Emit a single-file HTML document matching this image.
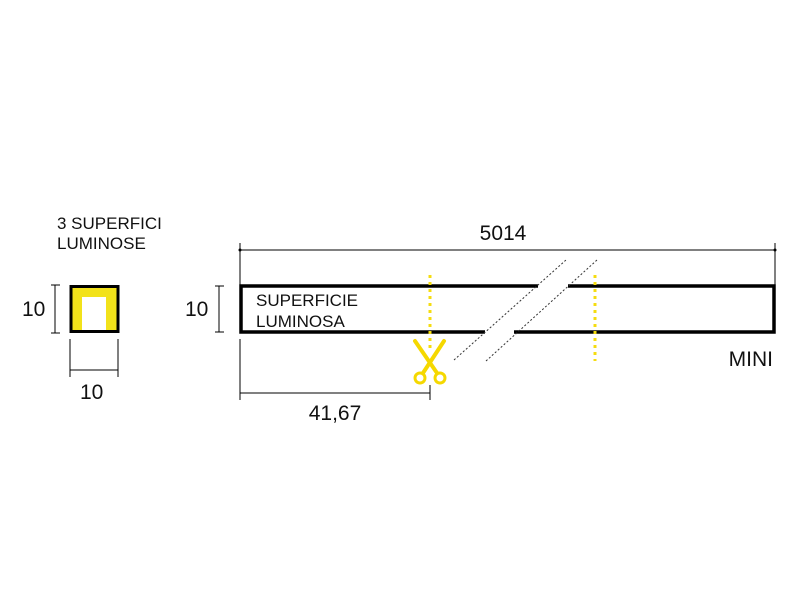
<!DOCTYPE html>
<html><head><meta charset="utf-8"><style>
html,body{margin:0;padding:0;background:#fff;width:800px;height:599px;overflow:hidden}
svg{display:block}
text{font-family:"Liberation Sans",Arial,sans-serif;fill:#111}
</style></head><body>
<svg width="800" height="599" viewBox="0 0 800 599" xmlns="http://www.w3.org/2000/svg">
<!-- small section -->
<text x="57" y="229" font-size="17">3 SUPERFICI</text>
<text x="57" y="249" font-size="17">LUMINOSE</text>
<rect x="71" y="286.5" width="47" height="45" fill="#f2e21a" stroke="#000" stroke-width="3"/>
<rect x="82" y="297" width="24" height="33" fill="#fff"/>
<line x1="71" y1="331.5" x2="118" y2="331.5" stroke="#000" stroke-width="3"/>
<g stroke="#000" stroke-width="1" fill="none">
<line x1="55" y1="285" x2="55" y2="333"/><line x1="51" y1="285" x2="60" y2="285"/><line x1="51" y1="333" x2="60" y2="333"/>
<line x1="70" y1="339" x2="70" y2="377"/><line x1="118" y1="339" x2="118" y2="377"/><line x1="70" y1="370" x2="118" y2="370"/>
</g>
<text x="22" y="316" font-size="21">10</text>
<text x="80" y="399" font-size="21">10</text>

<!-- main bar -->
<g stroke="#000" stroke-width="3.5" fill="none">
<path d="M538 286 H241 V332 H485"/>
<path d="M568 286 H774 V332 H514"/>
</g>
<g stroke="#000" stroke-width="1" fill="none">
<line x1="240" y1="250" x2="775" y2="250"/>
<line x1="240" y1="243" x2="240" y2="286"/>
<line x1="775" y1="243" x2="775" y2="286"/>
<line x1="219" y1="286" x2="219" y2="332"/><line x1="215" y1="286" x2="224" y2="286"/><line x1="215" y1="332" x2="224" y2="332"/>
<line x1="240" y1="339" x2="240" y2="400"/>
<line x1="240" y1="393" x2="430" y2="393"/>
<line x1="430" y1="385" x2="430" y2="400"/>
</g>
<circle cx="240" cy="250" r="1.5"/><circle cx="775" cy="250" r="1.5"/>
<g stroke="#333" stroke-width="1" stroke-dasharray="2,2">
<line x1="454" y1="360" x2="566" y2="260"/>
<line x1="486" y1="361" x2="597" y2="260"/>
</g>
<g stroke="#f5dc10" stroke-width="3" stroke-dasharray="3,4">
<line x1="430" y1="275" x2="430" y2="352"/>
<line x1="595" y1="275" x2="595" y2="361"/>
</g>
<!-- scissors -->
<g stroke="#f5d800" fill="none" stroke-linecap="round">
<path d="M415 341 L437 373" stroke-width="4"/>
<path d="M444 341 L423 373" stroke-width="4"/>
<circle cx="420" cy="378" r="5" stroke-width="3"/>
<circle cx="440" cy="378" r="5" stroke-width="3"/>
</g>
<text x="503" y="240" font-size="21" text-anchor="middle">5014</text>
<text x="185" y="316" font-size="21">10</text>
<text x="256" y="306" font-size="17">SUPERFICIE</text>
<text x="256" y="327" font-size="17">LUMINOSA</text>
<text x="335" y="420" font-size="21" text-anchor="middle">41,67</text>
<text x="773" y="366" font-size="21" text-anchor="end">MINI</text>
</svg>
</body></html>
